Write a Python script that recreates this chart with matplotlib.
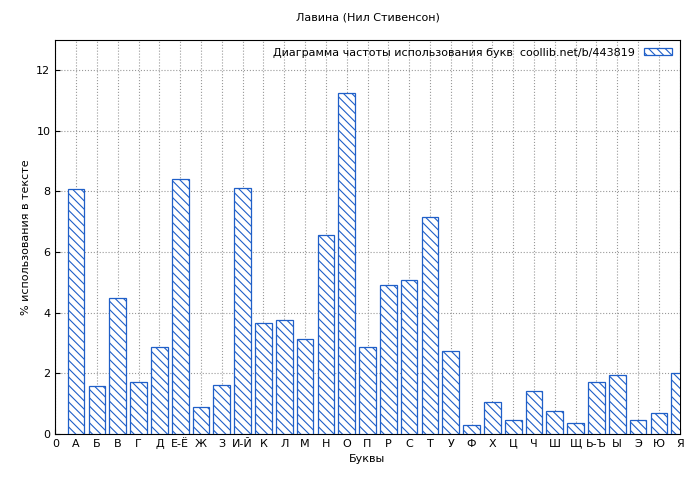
import matplotlib
matplotlib.use("Agg")
import matplotlib.pyplot as plt

letters = ["А", "Б", "В", "Г", "Д", "Е-Ё", "Ж", "З", "И-Й", "К", "Л", "М", "Н", "О", "П",
           "Р", "С", "Т", "У", "Ф", "Х", "Ц", "Ч", "Ш", "Щ", "Ь-Ъ", "Ы", "Э", "Ю", "Я"]
freq = [8.09, 1.58, 4.47, 1.71, 2.86, 8.42, 0.89, 1.61, 8.12, 3.65, 3.75, 3.12, 6.55, 11.25, 2.86,
        4.90, 5.07, 7.17, 2.73, 0.30, 1.05, 0.46, 1.41, 0.76, 0.36, 1.71, 1.94, 0.46, 0.69, 2.00]

plt.rcParams['font.family'] = ['DejaVu Sans']
plt.rcParams['hatch.color'] = '#1f5fc8'
plt.rcParams['hatch.linewidth'] = 0.8

fig, ax = plt.subplots(figsize=(7, 4.8), dpi=100)
fig.subplots_adjust(left=0.079, right=0.971, top=0.917, bottom=0.096)

pos = list(range(1, len(letters) + 1))
ax.bar(pos, freq, width=0.8, facecolor='white', edgecolor='#1f5fc8', linewidth=0.9,
       hatch='\\\\\\\\', label='Диаграмма частоты использования букв  coollib.net/b/443819', zorder=3)

ax.set_xlim(0, 30)
ax.set_ylim(0, 13)
ax.set_xticks([0] + pos)
ax.set_xticklabels(["0"] + letters, fontsize=8)
ax.set_yticks(range(0, 13, 2))
ax.tick_params(labelsize=8, direction='in')
ax.grid(True, color='#999999', linestyle=':', linewidth=0.8, zorder=0)
ax.set_title("Лавина (Нил Стивенсон)", fontsize=8, pad=14)
ax.set_xlabel("Буквы", fontsize=8)
ax.set_ylabel("% использования в тексте", fontsize=8)
ax.legend(loc='upper right', fontsize=8, frameon=False, markerfirst=False,
          handlelength=2.5, handleheight=0.6, borderaxespad=0.3)

fig.savefig("out.png", facecolor='white')
